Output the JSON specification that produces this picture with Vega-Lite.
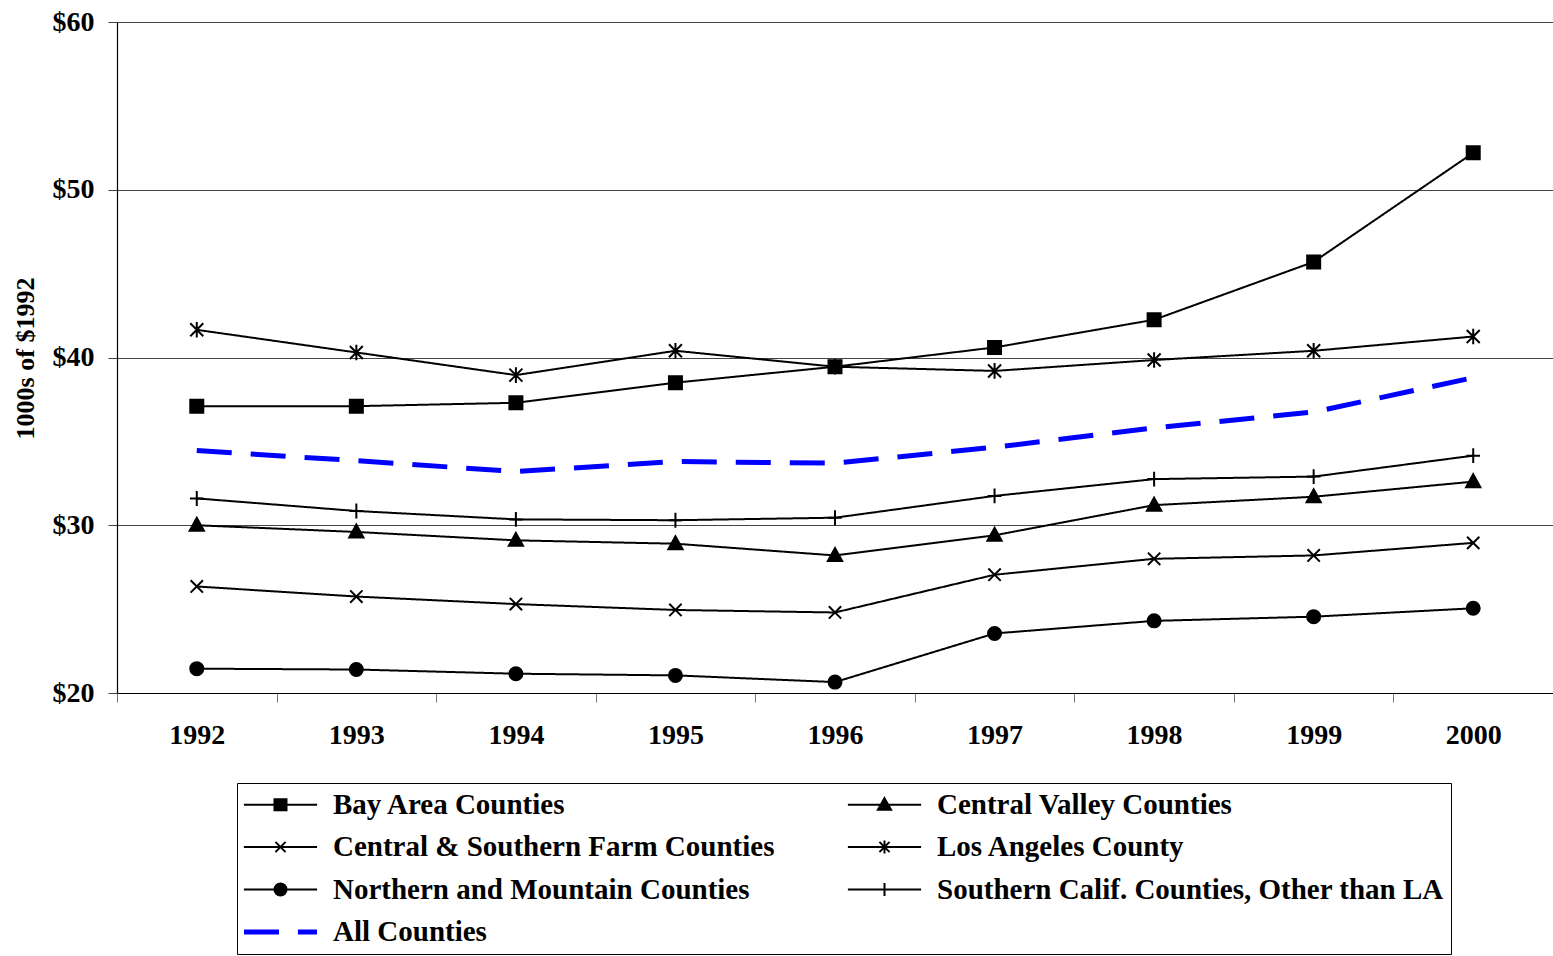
{
  "$schema": "https://vega.github.io/schema/vega-lite/v6.json",
  "width": 1436,
  "height": 671,
  "autosize": {"type": "none"},
  "padding": {"left": 117, "top": 22, "right": 0, "bottom": 263},
  "background": "white",
  "config": {
    "font": "Liberation Serif",
    "view": {"stroke": null}
  },
  "data": {
    "values": [
      {"year": "1992", "series": "Bay Area Counties", "value": 37.1},
      {"year": "1993", "series": "Bay Area Counties", "value": 37.1},
      {"year": "1994", "series": "Bay Area Counties", "value": 37.3},
      {"year": "1995", "series": "Bay Area Counties", "value": 38.5},
      {"year": "1996", "series": "Bay Area Counties", "value": 39.45},
      {"year": "1997", "series": "Bay Area Counties", "value": 40.6},
      {"year": "1998", "series": "Bay Area Counties", "value": 42.25},
      {"year": "1999", "series": "Bay Area Counties", "value": 45.7},
      {"year": "2000", "series": "Bay Area Counties", "value": 52.2},
      {"year": "1992", "series": "Central Valley Counties", "value": 30.0},
      {"year": "1993", "series": "Central Valley Counties", "value": 29.6},
      {"year": "1994", "series": "Central Valley Counties", "value": 29.1},
      {"year": "1995", "series": "Central Valley Counties", "value": 28.9},
      {"year": "1996", "series": "Central Valley Counties", "value": 28.2},
      {"year": "1997", "series": "Central Valley Counties", "value": 29.4},
      {"year": "1998", "series": "Central Valley Counties", "value": 31.2},
      {"year": "1999", "series": "Central Valley Counties", "value": 31.7},
      {"year": "2000", "series": "Central Valley Counties", "value": 32.6},
      {"year": "1992", "series": "Central & Southern Farm Counties", "value": 26.35},
      {"year": "1993", "series": "Central & Southern Farm Counties", "value": 25.75},
      {"year": "1994", "series": "Central & Southern Farm Counties", "value": 25.3},
      {"year": "1995", "series": "Central & Southern Farm Counties", "value": 24.95},
      {"year": "1996", "series": "Central & Southern Farm Counties", "value": 24.8},
      {"year": "1997", "series": "Central & Southern Farm Counties", "value": 27.05},
      {"year": "1998", "series": "Central & Southern Farm Counties", "value": 28.0},
      {"year": "1999", "series": "Central & Southern Farm Counties", "value": 28.2},
      {"year": "2000", "series": "Central & Southern Farm Counties", "value": 28.95},
      {"year": "1992", "series": "Los Angeles County", "value": 41.65},
      {"year": "1993", "series": "Los Angeles County", "value": 40.3},
      {"year": "1994", "series": "Los Angeles County", "value": 38.95},
      {"year": "1995", "series": "Los Angeles County", "value": 40.4},
      {"year": "1996", "series": "Los Angeles County", "value": 39.45},
      {"year": "1997", "series": "Los Angeles County", "value": 39.2},
      {"year": "1998", "series": "Los Angeles County", "value": 39.85},
      {"year": "1999", "series": "Los Angeles County", "value": 40.4},
      {"year": "2000", "series": "Los Angeles County", "value": 41.25},
      {"year": "1992", "series": "Northern and Mountain Counties", "value": 21.45},
      {"year": "1993", "series": "Northern and Mountain Counties", "value": 21.4},
      {"year": "1994", "series": "Northern and Mountain Counties", "value": 21.15},
      {"year": "1995", "series": "Northern and Mountain Counties", "value": 21.05},
      {"year": "1996", "series": "Northern and Mountain Counties", "value": 20.65},
      {"year": "1997", "series": "Northern and Mountain Counties", "value": 23.55},
      {"year": "1998", "series": "Northern and Mountain Counties", "value": 24.3},
      {"year": "1999", "series": "Northern and Mountain Counties", "value": 24.55},
      {"year": "2000", "series": "Northern and Mountain Counties", "value": 25.05},
      {"year": "1992", "series": "Southern Calif. Counties, Other than LA", "value": 31.6},
      {"year": "1993", "series": "Southern Calif. Counties, Other than LA", "value": 30.85},
      {"year": "1994", "series": "Southern Calif. Counties, Other than LA", "value": 30.35},
      {"year": "1995", "series": "Southern Calif. Counties, Other than LA", "value": 30.3},
      {"year": "1996", "series": "Southern Calif. Counties, Other than LA", "value": 30.45},
      {"year": "1997", "series": "Southern Calif. Counties, Other than LA", "value": 31.75},
      {"year": "1998", "series": "Southern Calif. Counties, Other than LA", "value": 32.75},
      {"year": "1999", "series": "Southern Calif. Counties, Other than LA", "value": 32.9},
      {"year": "2000", "series": "Southern Calif. Counties, Other than LA", "value": 34.15},
      {"year": "1992", "series": "All Counties", "value": 34.45},
      {"year": "1993", "series": "All Counties", "value": 33.85},
      {"year": "1994", "series": "All Counties", "value": 33.2},
      {"year": "1995", "series": "All Counties", "value": 33.8},
      {"year": "1996", "series": "All Counties", "value": 33.7},
      {"year": "1997", "series": "All Counties", "value": 34.65},
      {"year": "1998", "series": "All Counties", "value": 35.8},
      {"year": "1999", "series": "All Counties", "value": 36.75},
      {"year": "2000", "series": "All Counties", "value": 38.8}
    ]
  },
  "encoding": {
    "x": {
      "field": "year",
      "type": "ordinal",
      "scale": {"type": "band", "paddingInner": 0, "paddingOuter": 0},
      "axis": {
        "title": null,
        "labelAngle": 0,
        "labelFont": "Liberation Serif",
        "labelFontWeight": "bold",
        "labelFontSize": 28,
        "labelColor": "black",
        "labelPadding": 19,
        "tickBand": "extent",
        "tickSize": 9,
        "tickColor": "#777777",
        "domainColor": "black",
        "domainWidth": 1.2,
        "grid": false
      }
    },
    "y": {
      "field": "value",
      "type": "quantitative",
      "scale": {"domain": [20, 60], "nice": false, "zero": false},
      "axis": {
        "title": "1000s of $1992",
        "titleFont": "Liberation Serif",
        "titleFontWeight": "bold",
        "titleFontSize": 26,
        "titleColor": "black",
        "titleAngle": -90,
        "titleAlign": "center",
        "titleBaseline": "alphabetic",
        "titleX": -84,
        "titleY": 336,
        "values": [20, 30, 40, 50, 60],
        "labelExpr": "'$' + datum.value",
        "labelFont": "Liberation Serif",
        "labelFontWeight": "bold",
        "labelFontSize": 28,
        "labelColor": "black",
        "labelPadding": 14,
        "tickSize": 9,
        "tickColor": "#444444",
        "domainColor": "black",
        "domainWidth": 1.2,
        "grid": true,
        "gridColor": "#444444",
        "gridWidth": 1
      }
    }
  },
  "layer": [
    {
      "mark": {"type": "line", "strokeJoin": "round"},
      "encoding": {
        "detail": {"field": "series"},
        "color": {
          "condition": {"test": "datum.series === 'All Counties'", "value": "#0000FF"},
          "value": "black"
        },
        "strokeWidth": {
          "condition": {"test": "datum.series === 'All Counties'", "value": 5},
          "value": 2
        },
        "strokeDash": {
          "condition": {"test": "datum.series === 'All Counties'", "value": [35, 19]},
          "value": [1, 0]
        }
      }
    },
    {
      "transform": [{"filter": "datum.series !== 'All Counties'"}],
      "mark": {"type": "point", "filled": true, "fill": "black", "stroke": "black", "strokeWidth": 2, "size": 169, "opacity": 1},
      "encoding": {
        "shape": {
          "field": "series",
          "type": "nominal",
          "scale": {
            "domain": [
              "Bay Area Counties",
              "Central Valley Counties",
              "Central & Southern Farm Counties",
              "Los Angeles County",
              "Northern and Mountain Counties",
              "Southern Calif. Counties, Other than LA"
            ],
            "range": [
              "square",
              "M0,-1.15L1.1,0.85H-1.1Z",
              "M-0.95,-0.95L0.95,0.95M-0.95,0.95L0.95,-0.95",
              "M-1,-1L1,1M-1,1L1,-1M0,-1.2V1.2",
              "circle",
              "M-1.05,0H1.05M0,-1.15V1.15"
            ]
          },
          "legend": null
        }
      }
    },
    {
      "transform": [{"filter": "false"}],
      "mark": {"type": "point", "filled": true, "size": 144, "opacity": 1, "strokeWidth": 2},
      "encoding": {
        "shape": {
          "field": "series",
          "type": "nominal",
          "scale": {
            "domain": [
              "Bay Area Counties",
              "Central Valley Counties",
              "Central & Southern Farm Counties",
              "Los Angeles County",
              "Northern and Mountain Counties",
              "Southern Calif. Counties, Other than LA",
              "All Counties"
            ],
            "range": [
              "M-6.1,0H6.1M-1,-0.9H1V0.9H-1Z",
              "M-6.1,0H6.1M0,-1.1L1.1,0.85H-1.1Z",
              "M-6.1,0H6.1M-0.85,-0.85L0.85,0.85M-0.85,0.85L0.85,-0.85",
              "M-6.1,0H6.1M-0.85,-0.85L0.85,0.85M-0.85,0.85L0.85,-0.85M0,-1.1V1.1",
              "M-6.1,0H6.1M1,0A1,1,0,1,1,-1,0A1,1,0,1,1,1,0Z",
              "M-6.1,0H6.1M0,-1.1V1.1",
              "M-5.92,-0.25H-0.42V0.25H-5.92ZM3.07,-0.25H5.92V0.25H3.07Z"
            ]
          },
          "legend": {
            "title": null,
            "orient": "none",
            "legendX": 120,
            "legendY": 761,
            "columns": 2,
            "direction": "horizontal",
            "padding": 7,
            "strokeColor": "black",
            "fillColor": "white",
            "labelFont": "Liberation Serif",
            "labelFontWeight": "bold",
            "labelFontSize": 29,
            "labelColor": "black",
            "labelLimit": 1000,
            "labelOffset": 38,
            "symbolOffset": 22,
            "symbolSize": 144,
            "symbolStrokeWidth": 2,
            "rowPadding": 12.5,
            "columnPadding": 68
          }
        },
        "fill": {
          "field": "series",
          "type": "nominal",
          "scale": {
            "domain": [
              "Bay Area Counties",
              "Central Valley Counties",
              "Central & Southern Farm Counties",
              "Los Angeles County",
              "Northern and Mountain Counties",
              "Southern Calif. Counties, Other than LA",
              "All Counties"
            ],
            "range": ["black", "black", "black", "black", "black", "black", "#0000FF"]
          },
          "legend": {"title": null, "orient": "none"}
        },
        "stroke": {
          "field": "series",
          "type": "nominal",
          "scale": {
            "domain": [
              "Bay Area Counties",
              "Central Valley Counties",
              "Central & Southern Farm Counties",
              "Los Angeles County",
              "Northern and Mountain Counties",
              "Southern Calif. Counties, Other than LA",
              "All Counties"
            ],
            "range": ["black", "black", "black", "black", "black", "black", "#0000FF"]
          },
          "legend": {"title": null, "orient": "none"}
        }
      }
    }
  ],
  "resolve": {
    "scale": {
      "shape": "independent",
      "fill": "independent",
      "stroke": "independent"
    }
  }
}
